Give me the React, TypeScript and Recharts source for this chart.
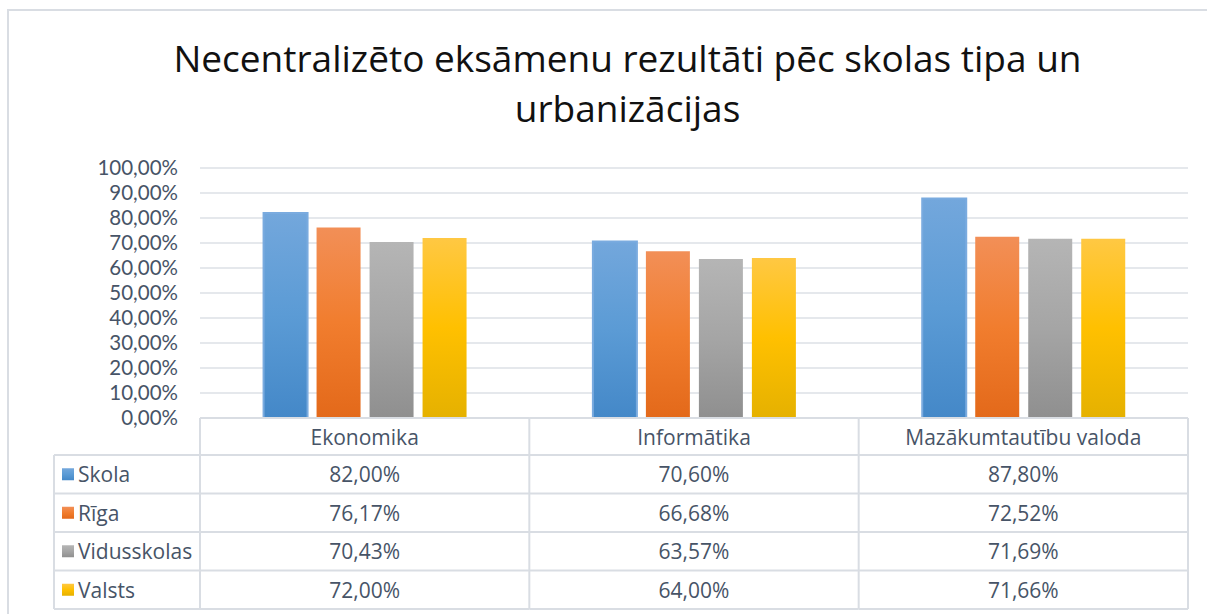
import { BarChart, Bar, XAxis, YAxis, CartesianGrid } from 'recharts';

const TITLE_LINES = ['Necentralizēto eksāmenu rezultāti pēc skolas tipa un', 'urbanizācijas'];
const CATEGORIES = ['Ekonomika', 'Informātika', 'Mazākumtautību valoda'];
const SERIES_NAMES = ['Skola', 'Rīga', 'Vidusskolas', 'Valsts'];
const SKOLA = [82.0, 70.6, 87.8];
const RIGA = [76.17, 66.68, 72.52];
const VIDUSSKOLAS = [70.43, 63.57, 71.69];
const VALSTS = [72.0, 64.0, 71.66];
const Y_TICKS = [0, 10, 20, 30, 40, 50, 60, 70, 80, 90, 100];

const SERIES_VALUES = [SKOLA, RIGA, VIDUSSKOLAS, VALSTS];
const SERIES_KEYS = ['skola', 'riga', 'vidusskolas', 'valsts'];
// top / middle / bottom of the Office-style gradient
const GRADIENTS = [
  ['#73a7dc', '#5b9bd5', '#4488c8'],
  ['#f28f57', '#f17d2e', '#e3691a'],
  ['#b5b5b5', '#a5a5a5', '#8f8f8f'],
  ['#ffc843', '#ffc000', '#e5b100'],
];

const data = CATEGORIES.map((name, i) => {
  const row: Record<string, string | number> = { name };
  SERIES_KEYS.forEach((k, s) => { row[k] = SERIES_VALUES[s][i]; });
  return row;
});

const W = 1207;
const H = 614;
const PLOT_LEFT = 200;
const PLOT_RIGHT = 1188;
const PLOT_TOP = 168;
const PLOT_BOTTOM = 418;
const BAND = (PLOT_RIGHT - PLOT_LEFT) / CATEGORIES.length;
const HEADER_BOTTOM = 455;
const ROW_H = 38.5;
const LEGEND_LEFT = 54;
const LINE = '#d9dde3';
const TEXT = '#475467';
const FONT = '"Open Sans", sans-serif';
const CELL_FONT = 21;

const fmt = (v: number) => v.toFixed(2).replace('.', ',') + '%';

function TableTick(props: any) {
  const { x, payload } = props;
  const i = payload.index as number;
  const left = x - BAND / 2;
  const right = x + BAND / 2;
  const bottom = HEADER_BOTTOM + ROW_H * SERIES_NAMES.length;
  return (
    <g>
      <line x1={left} x2={right} y1={PLOT_BOTTOM} y2={PLOT_BOTTOM} stroke={LINE} strokeWidth={2} />
      <line x1={right} x2={right} y1={PLOT_BOTTOM} y2={bottom} stroke={LINE} strokeWidth={2} />
      {i === 0 && <line x1={left} x2={left} y1={PLOT_BOTTOM} y2={bottom} stroke={LINE} strokeWidth={2} />}
      <text x={x} y={(PLOT_BOTTOM + HEADER_BOTTOM) / 2} textAnchor="middle" dominantBaseline="central"
        fill={TEXT} fontSize={CELL_FONT} fontFamily={FONT}>{payload.value}</text>
      {SERIES_NAMES.map((_, s) => {
        const top = HEADER_BOTTOM + ROW_H * s;
        return (
          <g key={s}>
            <line x1={i === 0 ? LEGEND_LEFT : left} x2={right} y1={top} y2={top} stroke={LINE} strokeWidth={2} />
            <text x={x} y={top + ROW_H / 2} textAnchor="middle" dominantBaseline="central"
              fill={TEXT} fontSize={CELL_FONT} fontFamily={FONT}>{fmt(SERIES_VALUES[s][i])}</text>
          </g>
        );
      })}
      <line x1={i === 0 ? LEGEND_LEFT : left} x2={right} y1={bottom} y2={bottom} stroke={LINE} strokeWidth={2} />
      {i === 0 && (
        <g>
          <line x1={LEGEND_LEFT} x2={LEGEND_LEFT} y1={HEADER_BOTTOM} y2={bottom} stroke={LINE} strokeWidth={2} />
          {SERIES_NAMES.map((n, s) => {
            const cy = HEADER_BOTTOM + ROW_H * s + ROW_H / 2;
            return (
              <g key={n}>
                <rect x={62} y={cy - 6} width={12} height={12} fill={`url(#grad${s})`} />
                <text x={78} y={cy} dominantBaseline="central" fill={TEXT} fontSize={CELL_FONT} fontFamily={FONT}>{n}</text>
              </g>
            );
          })}
        </g>
      )}
    </g>
  );
}

export default function App() {
  return (
    <div style={{ position: 'fixed', left: 0, top: 0, width: W, height: H, background: '#fff', overflow: 'hidden' }}>
      <div style={{ position: 'absolute', left: 7, top: 9, width: W + 50, height: H + 50, borderLeft: `2px solid ${LINE}`, borderTop: `2px solid ${LINE}` }} />
      <div style={{ position: 'absolute', left: 0, top: 33, width: 1255, textAlign: 'center', fontFamily: FONT, fontSize: 37, lineHeight: '50px', color: '#111' }}>
        {TITLE_LINES.map((t) => <div key={t}>{t}</div>)}
      </div>
      <div style={{ position: 'absolute', left: 0, top: 0 }}>
        <BarChart width={W} height={H} data={data} barCategoryGap="19.3%" barGap={9}
          margin={{ top: PLOT_TOP, right: W - PLOT_RIGHT, bottom: 0, left: 0 }}>
          <defs>
            {GRADIENTS.map((g, s) => (
              <linearGradient key={s} id={`grad${s}`} x1="0" y1="0" x2="0" y2="1">
                <stop offset="0%" stopColor={g[0]} />
                <stop offset="50%" stopColor={g[1]} />
                <stop offset="100%" stopColor={g[2]} />
              </linearGradient>
            ))}
          </defs>
          <CartesianGrid vertical={false} stroke="#dde1e6" strokeWidth={1.5} />
          <YAxis width={PLOT_LEFT} domain={[0, 100]} ticks={Y_TICKS} tickFormatter={fmt} interval={0}
            axisLine={false} tickLine={false} tickMargin={16}
            tick={{ fill: TEXT, fontSize: 20.5, fontFamily: 'Lato, sans-serif' }} />
          <XAxis dataKey="name" height={H - PLOT_BOTTOM} axisLine={false} tickLine={false}
            interval={0} tick={<TableTick />} />
          {SERIES_KEYS.map((k, s) => (
            <Bar key={k} dataKey={k} name={SERIES_NAMES[s]} fill={`url(#grad${s})`}
              stroke={s === 0 ? '#7aabdf' : 'none'} strokeWidth={s === 0 ? 2 : 0}
              isAnimationActive={false} />
          ))}
        </BarChart>
      </div>
    </div>
  );
}
